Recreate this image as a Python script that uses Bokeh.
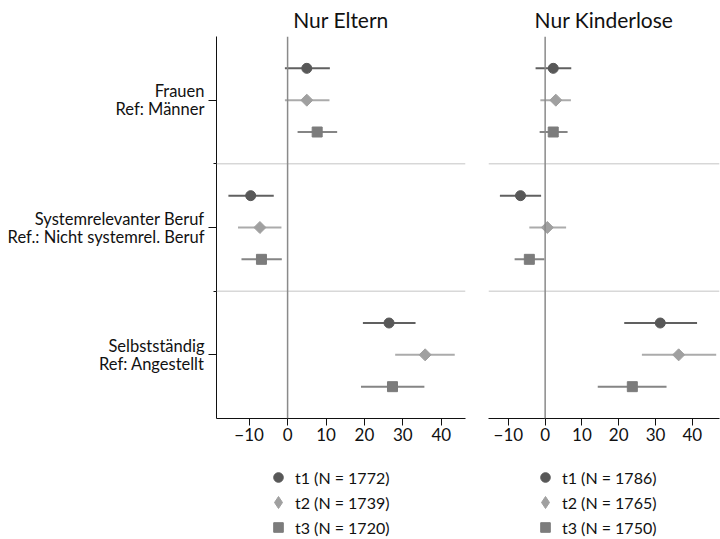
import math
from bokeh.plotting import figure
from bokeh.models import Range1d, FixedTicker, Span, Legend, LegendItem, ColumnDataSource
from bokeh.layouts import row, column
from bokeh.embed import file_html
from bokeh.resources import INLINE

categories = ["Frauen\nRef: Männer",
              "Systemrelevanter Beruf\nRef.: Nicht systemrel. Beruf",
              "Selbstständig\nRef: Angestellt"]
waves = ["t1", "t2", "t3"]
panel_titles = ["Nur Eltern", "Nur Kinderlose"]
x_ticks = [-10, 0, 10, 20, 30, 40]

n_eltern = [1772, 1739, 1720]
n_kinderlose = [1786, 1765, 1750]

# Nur Eltern: estimate, lower CI, upper CI per wave (Frauen, Systemrel., Selbstst.)
eltern_t1_est = [5.0, -9.6, 26.4]
eltern_t1_lo = [-0.7, -15.4, 19.6]
eltern_t1_hi = [11.0, -3.6, 33.3]
eltern_t2_est = [5.0, -7.2, 35.8]
eltern_t2_lo = [-0.7, -12.9, 28.0]
eltern_t2_hi = [10.9, -1.6, 43.5]
eltern_t3_est = [7.7, -6.8, 27.3]
eltern_t3_lo = [2.6, -12.0, 19.1]
eltern_t3_hi = [12.9, -1.5, 35.6]

# Nur Kinderlose
kinderlose_t1_est = [2.2, -6.7, 31.3]
kinderlose_t1_lo = [-2.6, -12.3, 21.5]
kinderlose_t1_hi = [7.1, -1.1, 41.3]
kinderlose_t2_est = [2.9, 0.6, 36.3]
kinderlose_t2_lo = [-1.3, -4.3, 26.3]
kinderlose_t2_hi = [7.0, 5.7, 46.5]
kinderlose_t3_est = [2.2, -4.3, 23.7]
kinderlose_t3_lo = [-1.5, -8.3, 14.3]
kinderlose_t3_hi = [6.1, -0.2, 33.0]

FONT = "Lato"
markers = ["circle", "square", "square"]
legend_markers = ["circle", "diamond", "square"]
marker_angles = [0, math.pi / 4, 0]
marker_colors = ["#585858", "#a0a0a0", "#7c7c7c"]
bar_colors = ["#606060", "#ababab", "#858585"]
marker_sizes = [10, 8.5, 10]
offsets = [-0.25, 0.0, 0.25]
# legend layout per wave: glyph box size and vertical offset in the legend strip
legend_box = [24, 30, 24]
legend_row_y = [50, 22, 0]


def make_panel(title, data, ns, xr, width, left_b, right_b, show_y):
    p = figure(width=width, height=448, x_range=Range1d(*xr), y_range=Range1d(3.5, 0.5),
               output_backend="svg", toolbar_location=None,
               min_border_top=36, min_border_bottom=30,
               min_border_left=left_b, min_border_right=right_b)
    p.outline_line_color = None
    p.xgrid.visible = False
    p.ygrid.visible = False
    p.title.text = title
    p.title.align = "center"
    p.title.text_font = FONT
    p.title.text_font_size = "21px"
    p.title.text_font_style = "normal"
    p.title.text_color = "#111111"
    p.title.standoff = 9
    p.title.offset = 0

    for yb in [1.5, 2.5]:
        p.add_layout(Span(location=yb, dimension="width", line_color="#c4c4c4", line_width=1))
    p.add_layout(Span(location=0, dimension="height", line_color="#8a8a8a", line_width=1.5))

    sources = []
    for i, w in enumerate(waves):
        est, lo, hi = data[i]
        ys = [k + 1 + offsets[i] for k in range(len(categories))]
        src = ColumnDataSource(dict(y=ys, est=est, lo=lo, hi=hi))
        sources.append(src)
        p.segment(x0="lo", x1="hi", y0="y", y1="y", source=src,
                  line_color=bar_colors[i], line_width=2)
        p.scatter(x="est", y="y", source=src, marker=markers[i], size=marker_sizes[i],
                  angle=marker_angles[i],
                  fill_color=marker_colors[i], line_color=marker_colors[i])

    xa = p.xaxis[0]
    xa.ticker = FixedTicker(ticks=x_ticks, minor_ticks=[])
    xa.major_label_overrides = {t: (str(t).replace("-", "\u2212")) for t in x_ticks}
    xa.major_label_text_font = FONT
    xa.major_label_text_font_size = "17px"
    xa.major_label_text_color = "#111111"
    xa.major_tick_out = 7
    xa.major_tick_in = 0
    xa.major_label_standoff = 2
    xa.axis_line_color = "#111111"
    xa.major_tick_line_color = "#111111"

    ya = p.yaxis[0]
    if show_y:
        ya.ticker = FixedTicker(ticks=[1, 2, 3], minor_ticks=[1.5, 2.5])
        ya.major_label_overrides = {k + 1: c for k, c in enumerate(categories)}
        ya.major_label_text_font = FONT
        ya.major_label_text_font_size = "16.5px"
        ya.major_label_text_color = "#111111"
        ya.major_label_text_line_height = 0.9
        ya.major_tick_out = 8
        ya.major_tick_in = 0
        ya.minor_tick_out = 3
        ya.minor_tick_in = 0
        ya.major_label_standoff = 4
        ya.axis_line_color = "#111111"
        ya.major_tick_line_color = "#111111"
        ya.minor_tick_line_color = "#111111"
    else:
        ya.visible = False
    return p, sources


eltern_data = [(eltern_t1_est, eltern_t1_lo, eltern_t1_hi),
               (eltern_t2_est, eltern_t2_lo, eltern_t2_hi),
               (eltern_t3_est, eltern_t3_lo, eltern_t3_hi)]
kinderlose_data = [(kinderlose_t1_est, kinderlose_t1_lo, kinderlose_t1_hi),
                   (kinderlose_t2_est, kinderlose_t2_lo, kinderlose_t2_hi),
                   (kinderlose_t3_est, kinderlose_t3_lo, kinderlose_t3_hi)]

p1, s1 = make_panel(panel_titles[0], eltern_data, n_eltern, (-18.5, 46.3), 476, 216, 11, True)
p2, s2 = make_panel(panel_titles[1], kinderlose_data, n_kinderlose, (-15.4, 47.4), 244, 12, 1, False)

# legend strip below both panels
lf = figure(width=720, height=91, x_range=Range1d(1000, 1001), y_range=Range1d(1000, 1001),
            output_backend="svg", toolbar_location=None, min_border=0)
lf.outline_line_color = None
lf.axis.visible = False
lf.grid.visible = False
for sources, ns, center_x in [(s1, n_eltern, 278), (s2, n_kinderlose, 545)]:
    for i, w in enumerate(waves):
        r = lf.scatter(x="est", y="y", source=sources[i], marker=legend_markers[i],
                       size=marker_sizes[i],
                       fill_color=marker_colors[i], line_color=marker_colors[i])
        box = legend_box[i]
        legend = Legend(items=[LegendItem(label=f"{w} (N = {ns[i]})", renderers=[r])],
                        location=(center_x - box / 2, legend_row_y[i]),
                        orientation="vertical",
                        label_text_font=FONT, label_text_font_size="16px",
                        label_text_color="#111111",
                        glyph_width=box, glyph_height=box, label_height=box,
                        label_standoff=5 - (box - 24) // 2, spacing=0, padding=0, margin=0,
                        border_line_color=None, background_fill_alpha=0)
        lf.add_layout(legend, "center")

layout = column(row(p1, p2, spacing=0), lf, spacing=0)
open("out.html", "w").write(file_html(layout, INLINE))
